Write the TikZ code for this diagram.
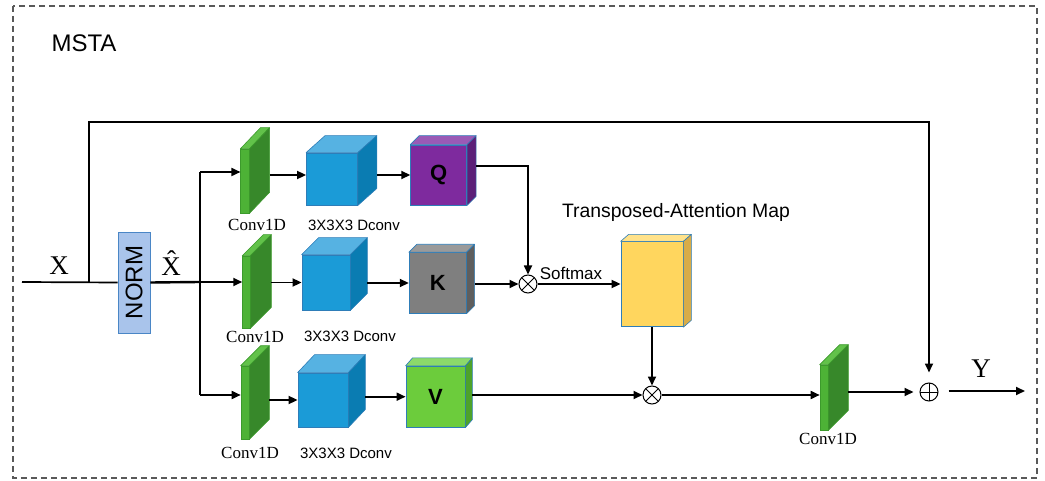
\documentclass[tikz,border=0pt]{standalone}
\usepackage{fontspec}
\setmainfont{Liberation Serif}
\setsansfont{Liberation Sans}
\usetikzlibrary{arrows.meta}
\definecolor{slabfront}{HTML}{4DB236}
\definecolor{slabtop}{HTML}{62C24A}
\definecolor{slabside}{HTML}{37882A}
\definecolor{slabline}{HTML}{3C9A2C}
\definecolor{cubefront}{HTML}{1B9BD7}
\definecolor{cubetop}{HTML}{56B2E2}
\definecolor{cubeside}{HTML}{0A7CB2}
\definecolor{boxline}{HTML}{2E7DB8}
\definecolor{qfront}{HTML}{7E2A9E}
\definecolor{qtop}{HTML}{9A5AB6}
\definecolor{qside}{HTML}{5C1F78}
\definecolor{kfront}{HTML}{7F7F7F}
\definecolor{ktop}{HTML}{9A9A9A}
\definecolor{kside}{HTML}{5E5E5E}
\definecolor{vfront}{HTML}{6CCC3C}
\definecolor{vtop}{HTML}{8CD96A}
\definecolor{vside}{HTML}{4DA32A}
\definecolor{afront}{HTML}{FFD65E}
\definecolor{atop}{HTML}{FFE28A}
\definecolor{aside}{HTML}{D8AC48}
\definecolor{normfill}{HTML}{A9C4EB}
\definecolor{normline}{HTML}{4A86C6}
\tikzset{
  conn/.style={line width=1.7pt},
  arr/.style={conn,-{Triangle[length=9pt,width=8pt]}},
  slab/.style={draw=slabline,fill=slabfront,line width=0.6pt,inner sep=0pt},
  cube/.style={draw=boxline,fill=cubefront,line width=0.8pt,inner sep=0pt},
  qkv/.style={draw=boxline,line width=0.8pt,inner sep=0pt,font=\sffamily\bfseries\fontsize{22}{22}\selectfont},
  serlab/.style={font=\fontsize{17}{17}\selectfont},
  sanlab/.style={font=\sffamily\fontsize{15}{15}\selectfont},
  biglab/.style={font=\fontsize{27}{27}\selectfont},
  otimes/.style={circle,draw,line width=1pt,minimum size=18pt,inner sep=0pt,
    path picture={\draw[line width=1pt] (path picture bounding box.north west)--(path picture bounding box.south east)
      (path picture bounding box.north east)--(path picture bounding box.south west);}},
  oplus/.style={circle,draw,line width=1pt,minimum size=18pt,inner sep=0pt,
    path picture={\draw[line width=1pt] (path picture bounding box.north)--(path picture bounding box.south)
      (path picture bounding box.east)--(path picture bounding box.west);}},
}
% name, dx, dy, top colour, side colour, line colour
\newcommand\depthfaces[6]{%
  \filldraw[fill=#4,draw=#6,line width=0.6pt,line join=round] (#1.north west) -- ++(#2,-#3) -- ([shift={(#2,-#3)}]#1.north east) -- (#1.north east) -- cycle;
  \filldraw[fill=#5,draw=#6,line width=0.6pt,line join=round] (#1.north east) -- ([shift={(#2,-#3)}]#1.north east) -- ([shift={(#2,-#3)}]#1.south east) -- (#1.south east) -- cycle;}
\begin{document}
\begin{tikzpicture}[x=1pt,y=-1pt]
\useasboundingbox (0,0) rectangle (1045,481);
\draw[black!65,line width=1.2pt,dash pattern=on 6pt off 4pt] (13,6) rectangle (1037,478);
\node[font=\sffamily\fontsize{24}{24}\selectfont] (title) at (84,43) {MSTA};

% NORM
\node[draw=normline,fill=normfill,line width=0.8pt,minimum width=32pt,minimum height=101pt,inner sep=0pt] (norm) at (134,282.5) {};
\node[rotate=90,font=\sffamily\fontsize{24}{24}\selectfont] (normt) at (norm.center) {NORM};
\node[biglab] (xl) at (59,266) {X};
\node[biglab] (xh) at (171,263) {\^{X}};

% Conv1D slabs
\node[slab,minimum width=8.5pt,minimum height=64pt] (c1) at (245,181) {};
\depthfaces{c1}{20}{21}{slabtop}{slabside}{slabline}
\node[slab,minimum width=7.5pt,minimum height=72pt] (c2) at (246.3,292) {};
\depthfaces{c2}{21}{21}{slabtop}{slabside}{slabline}
\node[slab,minimum width=8pt,minimum height=73pt] (c3) at (245,402.5) {};
\depthfaces{c3}{20}{20}{slabtop}{slabside}{slabline}
\node[slab,minimum width=8pt,minimum height=65pt] (c4) at (824,397.5) {};
\depthfaces{c4}{20}{20}{slabtop}{slabside}{slabline}
\node[serlab] (c1l) at (257,225) {Conv1D};
\node[serlab] (c2l) at (255,337) {Conv1D};
\node[serlab] (c3l) at (250,453) {Conv1D};
\node[serlab] (c4l) at (828,439) {Conv1D};

% Dconv cubes
\node[cube,minimum width=51pt,minimum height=52pt] (d1) at (332,179) {};
\depthfaces{d1}{19}{17}{cubetop}{cubeside}{boxline}
\node[cube,minimum width=48pt,minimum height=55pt] (d2) at (326,282.5) {};
\depthfaces{d2}{17}{17}{cubetop}{cubeside}{boxline}
\node[cube,minimum width=50pt,minimum height=54pt] (d3) at (323,400) {};
\depthfaces{d3}{17}{18}{cubetop}{cubeside}{boxline}
\node[sanlab] (d1l) at (354,225) {3X3X3 Dconv};
\node[sanlab] (d2l) at (350,336) {3X3X3 Dconv};
\node[sanlab] (d3l) at (346,453) {3X3X3 Dconv};

% Q K V
\node[qkv,fill=qfront,minimum width=56pt,minimum height=60pt] (q) at (438.7,175) {Q};
\depthfaces{q}{9}{9}{qtop}{qside}{boxline}
\node[qkv,fill=kfront,minimum width=57pt,minimum height=60.6pt] (k) at (437.7,283) {K};
\depthfaces{k}{8}{8}{ktop}{kside}{boxline}
\node[qkv,fill=vfront,minimum width=59pt,minimum height=61pt] (v) at (435.5,396.7) {V};
\depthfaces{v}{7}{8}{vtop}{vside}{boxline}

% attention map
\node[draw=boxline,fill=afront,line width=0.8pt,inner sep=0pt,minimum width=62pt,minimum height=85pt] (att) at (652,284.3) {};
\depthfaces{att}{8}{7}{atop}{aside}{boxline}
\node[font=\sffamily\fontsize{19.4}{19.4}\selectfont] (attl) at (676,212) {Transposed-Attention Map};

% operators
\node[otimes] (m1) at (528,284) {};
\node[otimes] (m2) at (652,395) {};
\node[oplus] (plus) at (929,392) {};
\node[font=\sffamily\fontsize{17}{17}\selectfont] (smx) at (571,273) {Softmax};
\node[biglab] (yl) at (981,369) {Y};

% coordinates
\coordinate (in) at (22,282);
\coordinate (b1) at (89,282);
\coordinate (tl) at (89,122);
\coordinate (j) at (200,282);
\coordinate (j1) at (200,172);
\coordinate (j3) at (200,395);
\coordinate (out) at (1025,391);

% connectors
\draw[conn] (in) -- (norm.west);
\draw[arr] (b1) -- (tl) -| ([yshift=10pt]plus.north);
\draw[line width=2.4pt] (norm.east) -- (j);
\draw[conn] (j1) -- (j3);
\draw[arr] (j1) -- (c1.west |- j1);
\draw[arr] (j) -- (c2.west |- j);
\draw[arr] (j3) -- (c3.west |- j3);

\draw[arr] ([xshift=20pt]c1.east |- 0,175) -- (d1.west |- 0,175);
\draw[arr] ([xshift=21pt]c2.east |- d2.west) -- (d2.west);
\draw[arr] ([xshift=20pt]c3.east |- d3.west) -- (d3.west);

\draw[arr] ([xshift=19pt]d1.east |- q.west) -- (q.west);
\draw[arr] ([xshift=17pt]d2.east |- k.west) -- (k.west);
\draw[arr] ([xshift=17pt]d3.east |- v.west) -- (v.west);

\draw[arr] ([xshift=9pt]q.east |- 0,166) -| (m1.north);
\draw[arr] ([xshift=8pt]k.east |- m1.west) -- (m1.west);
\draw[arr] (m1.east) -- (att.west |- m1.east);
\draw[arr] (att.south) -- (m2.north);
\draw[arr] ([xshift=7pt]v.east |- m2.west) -- (m2.west);
\draw[arr] (m2.east) -- (c4.west |- m2.east);
\draw[arr] ([xshift=20pt]c4.east |- plus.west) -- ([xshift=-6pt]plus.west);
\draw[arr] ([xshift=10pt]plus.east |- out) -- (out);
\end{tikzpicture}
\end{document}
